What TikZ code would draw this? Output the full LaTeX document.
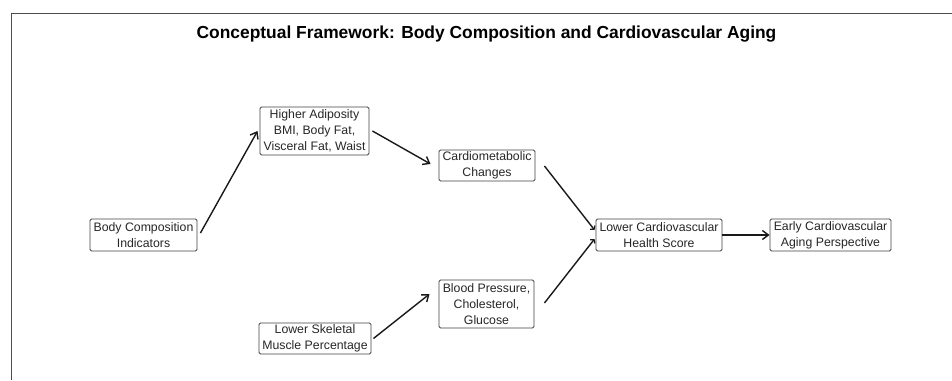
\documentclass[tikz,border=0pt]{standalone}
\usepackage{fontspec}
\setmainfont{Liberation Sans}
\usetikzlibrary{arrows.meta,calc}
\begin{document}
\begin{tikzpicture}[x=1pt,y=-1pt,
  box/.style={draw=black!75, line width=0.9pt, rounded corners=1.5pt, align=center,
    font=\fontsize{12.3}{16}\selectfont, text=black!85, inner sep=0pt},
  conn/.style={line width=1.4pt, black!90, -{Straight Barb[length=6pt,width=9pt,line width=1.4pt]}},
  smallconn/.style={line width=1.4pt, black!90, -{Straight Barb[length=2.5pt,width=6pt,line width=1.2pt]}},
  frame/.style={draw=black!70, line width=0.9pt}]
\useasboundingbox (0,0) rectangle (952,380);
\draw[frame] (11,380) -- (11,13) -- (952,13);
\node (title) at (486.5,34.5) {\fontsize{17.4}{20}\selectfont\bfseries Conceptual Framework: Body Composition and Cardiovascular Aging};
\node[box, minimum width=109pt, minimum height=48pt] (adip) at (314.5,131) {Higher Adiposity\\BMI, Body Fat,\\Visceral Fat, Waist};
\node[box, minimum width=96pt, minimum height=31pt] (cardio) at (487,165.5) {Cardiometabolic\\Changes};
\node[box, minimum width=107pt, minimum height=32pt] (body) at (143.5,235) {Body Composition\\Indicators};
\node[box, minimum width=112pt, minimum height=31pt] (skel) at (315,338.5) {Lower Skeletal\\Muscle Percentage};
\node[box, minimum width=95pt, minimum height=48pt] (bp) at (486.5,304) {Blood Pressure,\\Cholesterol,\\Glucose};
\node[box, minimum width=126pt, minimum height=32pt] (cvh) at (659,235) {Lower Cardiovascular\\Health Score};
\node[box, minimum width=121pt, minimum height=32pt] (early) at (830.5,235) {Early Cardiovascular\\Aging Perspective};
\draw[conn] ($(body.east)+(3,-2)$) -- ($(adip.west)+(-2,0)$);
\draw[conn] ($(adip.east)+(3,0)$) -- ($(cardio.west)+(-8,-1.5)$);
\draw[conn] ($(skel.east)+(2,0)$) -- ($(bp.west)+(-9,-10)$);
\draw[smallconn] ($(cardio.east)+(9,0.5)$) -- ($(cvh.west)+(-1,-5)$);
\draw[smallconn] ($(bp.east)+(10,-1)$) -- ($(cvh.west)+(-1,4)$);
\draw[conn] (cvh.east) -- (early.west);
\end{tikzpicture}
\end{document}
